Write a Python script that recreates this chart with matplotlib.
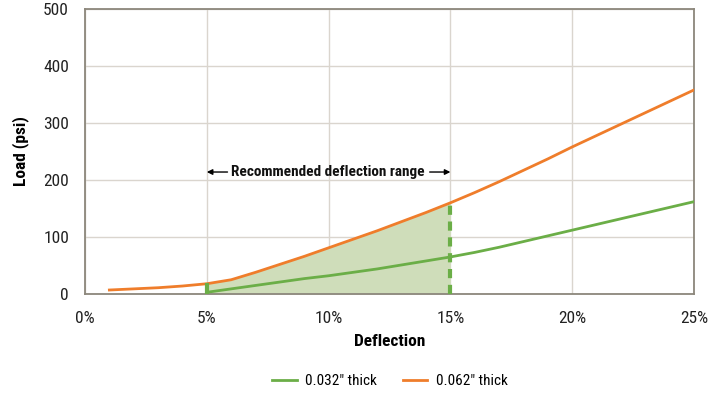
import matplotlib
matplotlib.use("Agg")
import matplotlib.pyplot as plt
from matplotlib import font_manager

defl_orange = [1, 2, 3, 4, 5, 6, 7, 8, 9, 10, 11, 12, 13, 14, 15, 16, 17, 18, 19, 20, 21, 22, 23, 24, 25]
load_orange = [7, 9, 11, 14, 18, 25, 38, 52, 66, 81, 96, 111, 127, 143, 160, 178, 197, 217, 237, 258, 278, 298, 318, 338, 358]
defl_green = [5, 6, 7, 8, 9, 10, 11, 12, 13, 14, 15, 16, 17, 18, 19, 20, 21, 22, 23, 24, 25]
load_green = [3, 9, 15, 21, 27, 32, 38, 44, 51, 58, 65, 73, 82, 92, 102, 112, 122, 132, 142, 152, 162]
range_lo, range_hi = 5, 15
x_ticks = [0, 5, 10, 15, 20, 25]
x_labels = ["0%", "5%", "10%", "15%", "20%", "25%"]
y_ticks = [0, 100, 200, 300, 400, 500]

names = {f.name for f in font_manager.fontManager.ttflist}
fam = "DejaVu Sans"
for cand in ["Roboto Condensed", "Liberation Sans Narrow", "Arial Narrow", "Roboto"]:
    if cand in names:
        fam = cand
        break
plt.rcParams['font.family'] = [fam, 'DejaVu Sans']

ORANGE = "#EF7D2B"
GREEN = "#6BAE47"
FILL = "#CFDDBA"
GRID = "#DAD5CE"
SPINE = "#8C877C"

fig = plt.figure(figsize=(7.12, 3.93), dpi=100)
ax = fig.add_axes([85/712, 1 - 294/393, (694-85)/712, (294-9)/393])

# fill region between 5% and 15% under orange
xs = [x for x in defl_orange if range_lo <= x <= range_hi]
ys = [y for x, y in zip(defl_orange, load_orange) if range_lo <= x <= range_hi]
ax.fill_between(xs, 0, ys, color=FILL, zorder=1, lw=0)

ax.plot(defl_green, load_green, color=GREEN, lw=2, zorder=3, label="0.032\" thick")
ax.plot(defl_orange, load_orange, color=ORANGE, lw=2, zorder=3, label="0.062\" thick")

# dashed boundaries
ax.plot([range_hi, range_hi], [0, ys[-1]], color=GREEN, lw=3, ls=(0, (2.2, 1.6)), zorder=4)
ax.plot([range_lo, range_lo], [load_green[0], 16], color=GREEN, lw=3, zorder=4)

ax.set_xlim(0, 25)
ax.set_ylim(0, 500)
ax.set_xticks(x_ticks)
ax.set_xticklabels(x_labels)
ax.set_yticks(y_ticks)
ax.grid(True, color=GRID, lw=1, zorder=0)
ax.set_axisbelow(True)
for s in ax.spines.values():
    s.set_color(SPINE)
    s.set_linewidth(1.3)
ax.tick_params(length=0, labelsize=12.5, colors="#222222", pad=11.5)
ax.tick_params(axis='x', pad=12)

ax.set_xlabel("Deflection", fontsize=12.5, fontweight='bold', labelpad=6)
ax.set_ylabel("Load (psi)", fontsize=12.5, fontweight='bold', labelpad=10)

# annotation
ax.annotate("", xy=(range_lo, 214), xytext=(5.85, 214),
            arrowprops=dict(arrowstyle="-|>", color="black", lw=1, mutation_scale=8,
                            shrinkA=0, shrinkB=0))
ax.annotate("", xy=(range_hi, 214), xytext=(14.15, 214),
            arrowprops=dict(arrowstyle="-|>", color="black", lw=1, mutation_scale=8,
                            shrinkA=0, shrinkB=0))
ax.text(9.95, 214, "Recommended deflection range", ha='center', va='center',
        fontsize=11, fontweight='bold', color="#111111")

fig.legend(loc='center', bbox_to_anchor=(390/712, 1 - 381/393), ncol=2, frameon=False,
           fontsize=11, handlelength=1.6, handletextpad=0.55, columnspacing=1.7)

fig.savefig("out.png", dpi=100)
